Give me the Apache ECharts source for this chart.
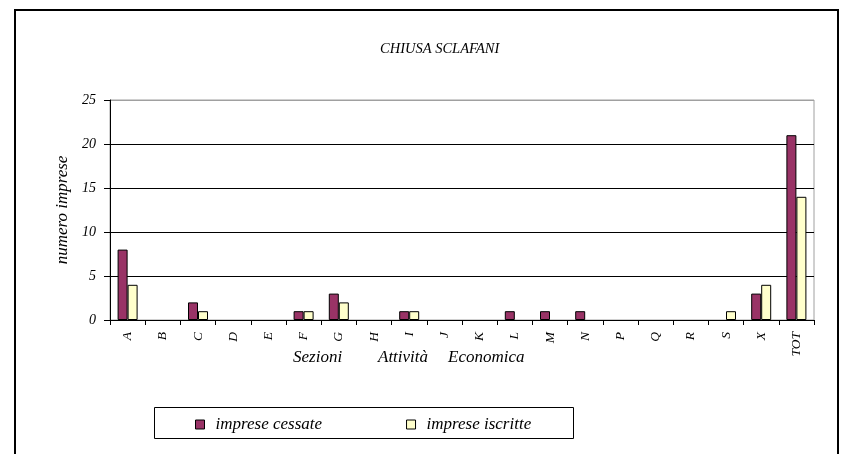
<!DOCTYPE html>
<html>
<head>
<meta charset="utf-8">
<script src="https://cdn.jsdelivr.net/npm/echarts@6/dist/echarts.min.js"></script>
<style>
html,body{margin:0;padding:0;background:#fff;}
#c{width:843px;height:454px;}
</style>
</head>
<body>
<div id="c"></div>
<script>
const categories = ['A','B','C','D','E','F','G','H','I','J','K','L','M','N','P','Q','R','S','X','TOT'];
const cessate  = [8,0,2,0,0,1,3,0,1,0,0,1,1,1,0,0,0,0,3,21];
const iscritte = [4,0,1,0,0,1,2,0,1,0,0,0,0,0,0,0,0,1,4,14];
const yTicks = [0,5,10,15,20,25];
const seriesNames = ['imprese cessate','imprese iscritte'];
const titleText = 'CHIUSA SCLAFANI';
const yName = 'numero imprese';
const xNameParts = ['Sezioni','Attività','Economica'];

// zero values are not drawn as bars in the reference
const hideZero = arr => arr.map(v => v === 0 ? null : v);

const FONT = '"Liberation Serif", "Times New Roman", serif';
const chart = echarts.init(document.getElementById('c'), null, {renderer:'canvas'});
chart.setOption({
  animation: false,
  backgroundColor: '#fff',
  title: {
    text: titleText,
    left: 375, top: 37,
    textStyle: {fontFamily: FONT, fontStyle: 'italic', fontWeight: 'normal', fontSize: 14.5, color: '#000'}
  },
  grid: {left: 110, right: 29, top: 100, bottom: 134, show: true, borderColor: '#a0a0a0', borderWidth: 1, backgroundColor: 'transparent'},
  legend: {
    left: 195, top: 416, padding: 0,
    icon: 'rect', itemWidth: 9, itemHeight: 9, itemGap: 84,
    itemStyle: {borderColor: '#000', borderWidth: 1},
    textStyle: {fontFamily: FONT, fontStyle: 'italic', fontSize: 17, color: '#000', padding: [0,0,0,6]},
    data: seriesNames
  },
  xAxis: {
    type: 'category',
    data: categories,
    boundaryGap: true,
    axisLine: {lineStyle: {color: '#000', width: 1}},
    axisTick: {show: true, interval: 0, length: 5, lineStyle: {color: '#000'}},
    axisLabel: {interval: 0, rotate: 90, margin: 12, fontFamily: FONT, fontStyle: 'italic', fontSize: 13.5, color: '#000'},
    splitLine: {show: false}
  },
  yAxis: {
    type: 'value',
    min: 0, max: 25, interval: 5,
    name: yName, nameLocation: 'middle', nameGap: 33, nameRotate: 90,
    nameTextStyle: {fontFamily: FONT, fontStyle: 'italic', fontSize: 17, color: '#000'},
    axisLine: {show: true, lineStyle: {color: '#000', width: 1}},
    axisTick: {show: true, length: 6, lineStyle: {color: '#000'}},
    axisLabel: {margin: 14, fontFamily: FONT, fontStyle: 'italic', fontSize: 14, color: '#000',
      formatter: v => yTicks.includes(v) ? String(v) : ''},
    splitLine: {show: true, lineStyle: {color: ['#000','#000','#000','#000','#000','#a0a0a0'], width: 1}}
  },
  series: [
    {name: seriesNames[0], type: 'bar', data: hideZero(cessate), barWidth: 10, barGap: '0%',
     itemStyle: {color: '#993366', borderColor: '#000', borderWidth: 1}},
    {name: seriesNames[1], type: 'bar', data: hideZero(iscritte), barWidth: 10, barGap: '0%',
     itemStyle: {color: '#ffffcc', borderColor: '#000', borderWidth: 1}}
  ],
  graphic: [
    {type: 'rect', silent: true, shape: {x: 15, y: 10, width: 823, height: 470},
     style: {fill: 'none', stroke: '#000', lineWidth: 2}},
    {type: 'rect', silent: true, shape: {x: 154.5, y: 407.5, width: 419, height: 31},
     style: {fill: 'none', stroke: '#000', lineWidth: 1}},
    {type: 'text', silent: true, x: 293, y: 358, style: {text: xNameParts[0], font: 'italic 17px ' + FONT, fill: '#000', textVerticalAlign: 'middle'}},
    {type: 'text', silent: true, x: 378, y: 358, style: {text: xNameParts[1], font: 'italic 17px ' + FONT, fill: '#000', textVerticalAlign: 'middle'}},
    {type: 'text', silent: true, x: 448, y: 358, style: {text: xNameParts[2], font: 'italic 17px ' + FONT, fill: '#000', textVerticalAlign: 'middle'}}
  ]
});
</script>
</body>
</html>
